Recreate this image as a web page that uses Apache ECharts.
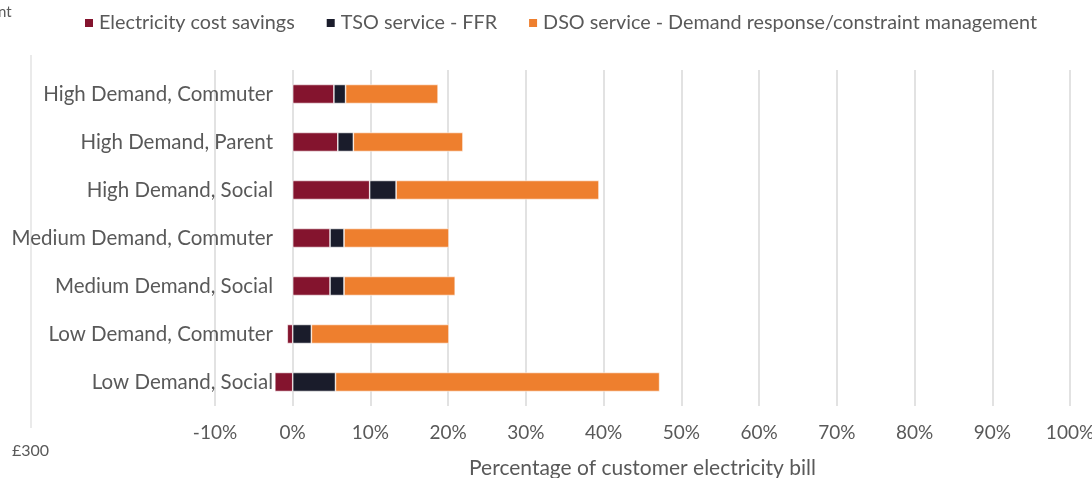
<!DOCTYPE html>
<html>
<head>
<meta charset="utf-8">
<script src="https://cdn.jsdelivr.net/npm/echarts@6/dist/echarts.min.js"></script>
<style>
  html, body { margin: 0; padding: 0; background: #fff; }
  #chart { width: 1092px; height: 478px; }
</style>
</head>
<body>
<div id="chart"></div>
<script>
// categories, bottom to top (echarts draws category axis from bottom)
const categories = [
    'Low Demand, Social',
    'Low Demand, Commuter',
    'Medium Demand, Social',
    'Medium Demand, Commuter',
    'High Demand, Social',
    'High Demand, Parent',
    'High Demand, Commuter'
];
// percent of bill
const costSavings = [-2.3, -0.7, 4.8, 4.8, 9.9, 5.8, 5.3];
const tsoFFR = [5.5, 2.4, 1.8, 1.8, 3.4, 2.0, 1.5];
const dsoService = [41.7, 17.7, 14.3, 13.5, 26.1, 14.1, 11.9];
const xTicks = [-10, 0, 10, 20, 30, 40, 50, 60, 70, 80, 90, 100];

const seriesNames = [
    'Electricity cost savings',
    'TSO service - FFR',
    'DSO service - Demand response/constraint management'
];
const colors = ['#84142E', '#1A1C2B', '#EE7F2E'];
const font = 'Lato, "Open Sans", sans-serif';
const textColor = '#595959';

const chart = echarts.init(document.getElementById('chart'));

const mkSeries = (name, data, color) => ({
    name: name,
    type: 'bar',
    stack: 'total',
    barWidth: 19,
    data: data,
    itemStyle: { color: color, borderColor: '#fff', borderWidth: 0.6 }
});

chart.setOption({
    animation: false,
    color: colors,
    textStyle: { fontFamily: font },
    legend: {
        top: 8,
        left: 78,
        itemWidth: 10,
        itemHeight: 10,
        itemGap: 30,
        icon: 'rect',
        textStyle: { color: textColor, fontSize: 19.8, fontFamily: font },
        data: seriesNames
    },
    grid: { left: 215, right: 22, top: 70, bottom: 72, outerBoundsMode: 'none', containLabel: false },
    xAxis: {
        type: 'value',
        min: xTicks[0],
        max: xTicks[xTicks.length - 1],
        interval: 10,
        axisLine: { show: false },
        axisTick: { show: false },
        splitLine: { lineStyle: { color: '#D9D9D9', width: 1.5 } },
        axisLabel: {
            color: textColor, fontSize: 19, margin: 17, fontFamily: font,
            formatter: v => v + '%'
        },
        name: 'Percentage of customer electricity bill',
        nameLocation: 'middle',
        nameGap: 52,
        nameTextStyle: { color: textColor, fontSize: 21, fontFamily: font }
    },
    yAxis: {
        type: 'category',
        data: categories,
        axisLine: { show: false },
        axisTick: { show: false },
        // labels sit ~20px left of the 0% line, i.e. inside the grid edge
        axisLabel: { color: textColor, fontSize: 20.5, margin: -58, fontFamily: font }
    },
    graphic: [
        { type: 'text', left: -2, top: 5, style: { text: 'nt', fill: textColor, font: '15px ' + font } },
        { type: 'text', left: 12, top: 443, style: { text: '£300', fill: textColor, font: '16px ' + font } },
        { type: 'line', shape: { x1: 31, y1: 55, x2: 31, y2: 428 }, style: { stroke: '#E3E3E3', lineWidth: 1.5 } }
    ],
    series: [
        mkSeries(seriesNames[0], costSavings, colors[0]),
        mkSeries(seriesNames[1], tsoFFR, colors[1]),
        mkSeries(seriesNames[2], dsoService, colors[2])
    ]
});
</script>
</body>
</html>
